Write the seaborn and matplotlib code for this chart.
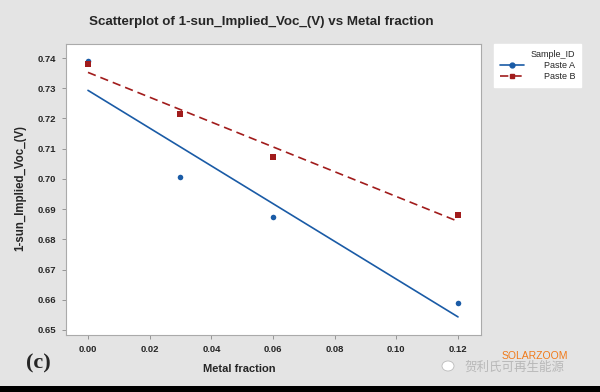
import numpy as np
import pandas as pd
import matplotlib
matplotlib.use("Agg")
import matplotlib.pyplot as plt
import seaborn as sns
from matplotlib.lines import Line2D
from matplotlib.patches import Rectangle, Ellipse

metal_fraction = [0.00, 0.03, 0.06, 0.12]
paste_a = [0.739, 0.7005, 0.6875, 0.659]
paste_b = [0.738, 0.7215, 0.7072, 0.688]
series_names = ["Paste A", "Paste B"]
x_ticks = [0.00, 0.02, 0.04, 0.06, 0.08, 0.10, 0.12]
y_ticks = [0.65, 0.66, 0.67, 0.68, 0.69, 0.70, 0.71, 0.72, 0.73, 0.74]

df = pd.DataFrame({
    "Metal fraction": metal_fraction * 2,
    "Voc": paste_a + paste_b,
    "Sample_ID": [series_names[0]] * 4 + [series_names[1]] * 4,
})

sns.set_theme(style="white")
plt.rcParams['font.family'] = ['Liberation Sans', 'DejaVu Sans']

BG = "#e4e4e4"
BLUE = "#1a5ba6"
RED = "#a11c1c"

fig = plt.figure(figsize=(6, 3.92), dpi=100, facecolor=BG)
ax = fig.add_axes([66/600, 1-335/392, (481-66)/600, (335-44)/392])
ax.set_facecolor("white")

styles = {
    "Paste A": dict(color=BLUE, marker="o", ls="-", ms=16),
    "Paste B": dict(color=RED, marker="s", ls=(0, (5, 3)), ms=22),
}
handles = []
for name in series_names:
    sub = df[df["Sample_ID"] == name]
    st = styles[name]
    sns.regplot(data=sub, x="Metal fraction", y="Voc", ax=ax, ci=None,
                marker=st["marker"], color=st["color"],
                scatter_kws=dict(s=st["ms"], linewidths=0, alpha=1, zorder=3),
                line_kws=dict(lw=1.2, ls=st["ls"], zorder=2))
    handles.append(Line2D([], [], color=st["color"], marker=st["marker"],
                          ls=st["ls"], lw=1.2, ms=3.5))

ax.set_xlim(-0.00713, 0.12746)
ax.set_ylim(0.64834, 0.74464)
ax.set_xticks(x_ticks)
ax.set_yticks(y_ticks)
ax.set_xticklabels([f"{v:.2f}" for v in x_ticks], fontsize=6.8, fontweight="bold")
ax.set_yticklabels([f"{v:.2f}" for v in y_ticks], fontsize=6.8, fontweight="bold")
ax.tick_params(axis="both", which="both", direction="out", length=3, width=0.6,
               color="#888888", pad=4, bottom=True, left=True)
ax.set_xlabel("")
ax.set_ylabel("")
for sp in ax.spines.values():
    sp.set_color("#aaaaaa")
    sp.set_linewidth(0.8)

fig.text(261/600, 1-22/392, "Scatterplot of 1-sun_Implied_Voc_(V) vs Metal fraction",
         ha="center", va="center", fontsize=9.6, fontweight="bold")
fig.text(239/600, 1-369/392, "Metal fraction", ha="center", va="center",
         fontsize=8, fontweight="bold")
fig.text(20/600, 1-188/392, "1-sun_Implied_Voc_(V)", ha="center", va="center",
         rotation=90, fontsize=8.3, fontweight="bold")

leg = fig.legend(handles=handles, labels=series_names, title="Sample_ID",
                 loc="upper left", bbox_to_anchor=(494/600, 1-44/392),
                 fontsize=6.5, title_fontsize=6.5, frameon=True, fancybox=False,
                 edgecolor="white", facecolor="white", framealpha=1,
                 handlelength=2.6, handletextpad=2.2, borderpad=0.7,
                 labelspacing=0.2, borderaxespad=0,
                 alignment="right")

fig.text(38/600, 1-363/392, "(c)", ha="center", va="center", fontsize=16,
         fontweight="bold", family="Liberation Serif")

# bottom black band
fig.patches.append(Rectangle((0, 0), 1, 6/392, transform=fig.transFigure,
                             facecolor="black", edgecolor="none"))

# watermark
fig.patches.append(Ellipse((448/600, 1-366/392), 12/600, 10/392,
                           transform=fig.transFigure, facecolor="white",
                           edgecolor="#bbbbbb", lw=0.6))
fig.text(515/600, 1-367/392, "贺利氏可再生能源", ha="center", va="center",
         fontsize=9, color="#b8b8b8", family=["Noto Sans CJK SC", "DejaVu Sans"])
fig.text(535/600, 1-356/392, "SOLARZOOM", ha="center", va="center",
         fontsize=7.5, color="#f07a1a")

fig.savefig("out.png", dpi=100, facecolor=BG)
